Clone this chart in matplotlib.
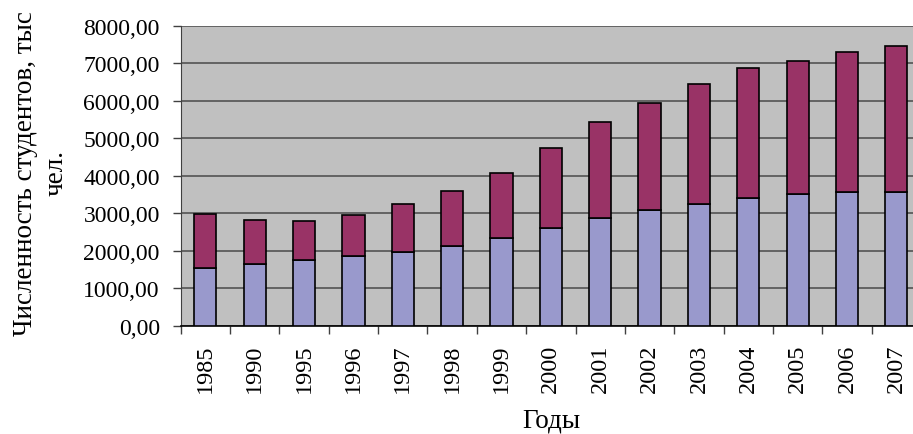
import matplotlib
matplotlib.use("Agg")
import matplotlib.pyplot as plt
import numpy as np

plt.rcParams['font.family'] = ['Liberation Serif', 'DejaVu Serif']

years = ["1985", "1990", "1995", "1996", "1997", "1998", "1999", "2000",
         "2001", "2002", "2003", "2004", "2005", "2006", "2007"]
# lower segment of each bar (thousand people)
lower = [1540, 1645, 1752, 1858, 1964, 2124, 2338, 2604,
         2871, 3093, 3253, 3404, 3520, 3564, 3564]
# upper segment of each bar (thousand people)
upper = [1440, 1180, 1039, 1107, 1284, 1473, 1735, 2137,
         2556, 2855, 3203, 3480, 3545, 3746, 3897]

y_ticks = [0, 1000, 2000, 3000, 4000, 5000, 6000, 7000, 8000]
y_tick_labels = ["0,00", "1000,00", "2000,00", "3000,00", "4000,00",
                 "5000,00", "6000,00", "7000,00", "8000,00"]

W, H = 913, 435
fig = plt.figure(figsize=(W / 100, H / 100), dpi=100)
ax = fig.add_axes([180.7 / W, 1 - 326.7 / H, (921 - 180.7) / W, 300 / H])
ax.set_facecolor('#C0C0C0')

x = np.arange(len(years))
ax.bar(x, lower, width=0.45, color='#9999CC', edgecolor='black', linewidth=1.2, zorder=3)
ax.bar(x, upper, bottom=lower, width=0.45, color='#993366', edgecolor='black',
       linewidth=1.2, zorder=3)

ax.set_xlim(-0.5, len(years) - 0.5)
ax.set_ylim(0, 8000)
ax.set_yticks(y_ticks)
ax.set_yticklabels(y_tick_labels, fontsize=17)
ax.yaxis.grid(True, color='#5C5C5C', linewidth=1.3, zorder=1)
ax.set_axisbelow(True)

ax.set_xticks(x)
ax.set_xticklabels(years, rotation=90, fontsize=17.5)
ax.tick_params(axis='x', length=0, pad=13)
ax.set_xticks(np.arange(-0.5, len(years), 1.0), minor=True)
ax.tick_params(axis='x', which='minor', length=6, width=1, color='#404040', direction='out')
ax.tick_params(axis='y', length=6, width=1, color='#404040', direction='out', pad=9)

for s in ['top', 'right']:
    ax.spines[s].set_visible(False)
ax.spines['left'].set_color('#404040')
ax.spines['bottom'].set_color('black')
ax.spines['bottom'].set_linewidth(1.2)

# axis titles
fig.text(41 / W, 1 - 173.5 / H, "Численность студентов, тыс\nчел.", rotation=90,
         ha='center', va='center', multialignment='center', fontsize=19.5,
         linespacing=1.3)
fig.text(551 / W, 1 - 421 / H, "Годы", ha='center', va='center', fontsize=19.5)

fig.savefig("out.png", dpi=100)
